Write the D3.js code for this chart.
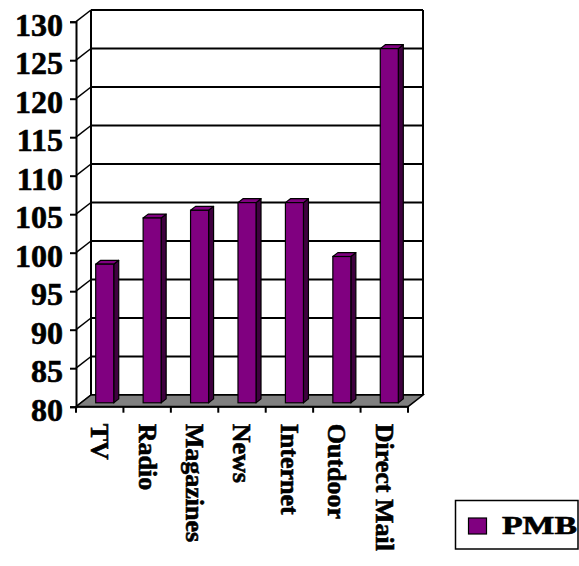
<!DOCTYPE html>
<html>
<head>
<meta charset="utf-8">
<script src="https://cdn.jsdelivr.net/npm/d3@7"></script>
<style>
  html, body { margin: 0; padding: 0; background: #fff; }
  svg { display: block; }
  text { font-family: "Liberation Serif", "Times New Roman", serif; font-weight: bold; fill: #000; stroke: #000; stroke-width: 0.6px; }
</style>
</head>
<body>
<svg id="chart" width="579" height="566"></svg>
<script>
// Media index by channel
const categories = ["TV", "Radio", "Magazines", "News", "Internet", "Outdoor", "Direct Mail"];
const pmbValues = [98, 104, 105, 106, 106, 99, 126];
const yTicks = [80, 85, 90, 95, 100, 105, 110, 115, 120, 125, 130];
const seriesName = "PMB";

const svg = d3.select("#chart");

// Front plane of the 3D box, plus the depth vector to the back wall
const x0 = 76, x1 = 408, yBottom = 406.7, yTop = 21.7;
const depthX = 15, depthY = -11.7;

const x = d3.scaleBand().domain(categories).range([x0, x1]).padding(0);
const y = d3.scaleLinear().domain([80, 130]).range([yBottom, yTop]);

const purple = "#800080", purpleSide = "#3f003f", floorGray = "#808080";

// Back wall gridlines
svg.append("g").selectAll("line.grid")
  .data(yTicks)
  .join("line")
  .attr("x1", x0 + depthX).attr("x2", x1 + depthX)
  .attr("y1", d => y(d) + depthY).attr("y2", d => y(d) + depthY)
  .attr("stroke", "#000").attr("stroke-width", 2);

// Left wall connectors from front axis to back wall
svg.append("g").selectAll("line.side")
  .data(yTicks)
  .join("line")
  .attr("x1", x0).attr("y1", d => y(d))
  .attr("x2", x0 + depthX).attr("y2", d => y(d) + depthY)
  .attr("stroke", "#000").attr("stroke-width", 1.5);

// Back wall vertical edges
svg.append("line")
  .attr("x1", x0 + depthX).attr("x2", x0 + depthX)
  .attr("y1", y(130) + depthY).attr("y2", y(80) + depthY)
  .attr("stroke", "#000").attr("stroke-width", 2);
svg.append("line")
  .attr("x1", x1 + depthX).attr("x2", x1 + depthX)
  .attr("y1", y(130) + depthY).attr("y2", y(80) + depthY)
  .attr("stroke", "#000").attr("stroke-width", 2);

// Floor
svg.append("path")
  .attr("d", `M${x0},${y(80)} L${x1},${y(80)} L${x1 + depthX},${y(80) + depthY} L${x0 + depthX},${y(80) + depthY} Z`)
  .attr("fill", floorGray).attr("stroke", "#000").attr("stroke-width", 1.5);

// Bars: boxes sitting in the middle third of the depth
const barW = x.bandwidth() * 0.38;
const fdx = depthX / 3, fdy = depthY / 3;
const bars = svg.append("g").selectAll("g.bar")
  .data(categories.map((c, i) => ({ c, v: pmbValues[i] })))
  .join("g");

bars.each(function(d) {
  const g = d3.select(this);
  const left = x(d.c) + x.bandwidth() / 2 - barW / 2 + fdx;
  const right = left + barW;
  const top = y(d.v) + fdy;
  const bottom = y(80) + fdy;
  // side face
  g.append("path")
    .attr("d", `M${right},${top} L${right + fdx},${top + fdy} L${right + fdx},${bottom + fdy} L${right},${bottom} Z`)
    .attr("fill", purpleSide).attr("stroke", "#000").attr("stroke-width", 1.2).attr("stroke-linejoin", "round");
  // top face
  g.append("path")
    .attr("d", `M${left},${top} L${left + fdx},${top + fdy} L${right + fdx},${top + fdy} L${right},${top} Z`)
    .attr("fill", purple).attr("stroke", "#000").attr("stroke-width", 1.2).attr("stroke-linejoin", "round");
  // front face
  g.append("rect")
    .attr("x", left).attr("y", top)
    .attr("width", barW).attr("height", bottom - top)
    .attr("fill", purple).attr("stroke", "#000").attr("stroke-width", 1.2);
});

// Front value axis
const yAxis = svg.append("g").attr("transform", `translate(${x0},0)`)
  .call(d3.axisLeft(y).tickValues(yTicks).tickSize(6).tickPadding(7));
yAxis.select(".domain").attr("stroke", "#000").attr("stroke-width", 2);
yAxis.selectAll(".tick line").attr("stroke", "#000").attr("stroke-width", 2);
yAxis.selectAll(".tick text")
  .attr("font-size", 32)
  .attr("dy", "0.42em");

// Front category axis (tick marks at slot boundaries)
const slotEdges = categories.map(c => x(c)).concat([x1]);
svg.append("line")
  .attr("x1", x0).attr("x2", x1).attr("y1", y(80)).attr("y2", y(80))
  .attr("stroke", "#000").attr("stroke-width", 2);
svg.append("g").selectAll("line")
  .data(slotEdges)
  .join("line")
  .attr("x1", d => d).attr("x2", d => d)
  .attr("y1", y(80)).attr("y2", y(80) + 6)
  .attr("stroke", "#000").attr("stroke-width", 2);

// Category labels, rotated to read downward
svg.append("g").selectAll("text")
  .data(categories)
  .join("text")
  .attr("transform", d => `translate(${x(d) + x.bandwidth() / 2},${y(80) + 17}) rotate(90)`)
  .attr("dy", "0.33em")
  .attr("font-size", 26)
  .attr("text-anchor", "start")
  .text(d => d);

// Legend
const legend = svg.append("g");
legend.append("rect")
  .attr("x", 455.5).attr("y", 500.5).attr("width", 122.5).attr("height", 48.5)
  .attr("fill", "#fff").attr("stroke", "#000").attr("stroke-width", 1.5);
legend.append("rect")
  .attr("x", 468.5).attr("y", 518).attr("width", 18).attr("height", 16)
  .attr("fill", purple).attr("stroke", "#000").attr("stroke-width", 1.2);
legend.append("text")
  .attr("x", 502).attr("y", 534)
  .attr("font-size", 25)
  .attr("textLength", 75)
  .attr("lengthAdjust", "spacingAndGlyphs")
  .text(seriesName);
</script>
</body>
</html>
